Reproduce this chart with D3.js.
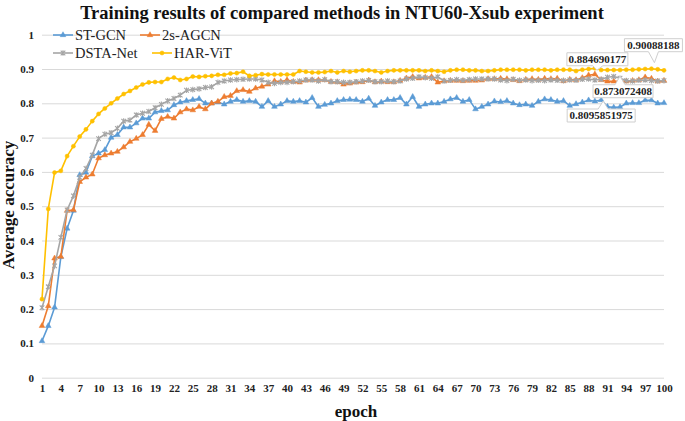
<!DOCTYPE html>
<html><head><meta charset="utf-8">
<script src="https://cdn.jsdelivr.net/npm/d3@7"></script>
<style>
html,body{margin:0;padding:0;background:#fff;}
svg{display:block;}
text{font-family:"Liberation Serif","Times New Roman",serif;}
</style></head>
<body><svg id="c" width="685" height="421"></svg>
<script>
const epochs = d3.range(1, 101);
const xTickLabels = d3.range(1, 101, 3);
const yTicks = [0,0.1,0.2,0.3,0.4,0.5,0.6,0.7,0.8,0.9,1];
const seriesNames = ["ST-GCN","2s-AGCN","DSTA-Net","HAR-ViT"];

const stgcn = [0.107,0.151,0.205,0.352,0.435,0.487,0.591,0.598,0.646,0.654,
 0.664,0.700,0.708,0.730,0.730,0.742,0.756,0.756,0.774,0.778,
 0.780,0.795,0.803,0.807,0.810,0.813,0.800,0.800,0.803,0.797,
 0.805,0.810,0.805,0.807,0.805,0.790,0.807,0.790,0.797,0.807,
 0.805,0.807,0.803,0.816,0.790,0.796,0.800,0.807,0.810,0.811,
 0.810,0.805,0.814,0.793,0.803,0.810,0.810,0.816,0.797,0.819,
 0.790,0.797,0.800,0.800,0.805,0.812,0.816,0.805,0.810,0.783,
 0.790,0.797,0.806,0.804,0.807,0.800,0.795,0.797,0.793,0.805,
 0.812,0.810,0.805,0.807,0.793,0.798,0.803,0.809,0.806,0.8095851975,
 0.790,0.788,0.789,0.800,0.801,0.801,0.809,0.809,0.800,0.801];
const agcn = [0.151,0.209,0.348,0.353,0.487,0.489,0.571,0.584,0.593,0.640,
 0.649,0.654,0.659,0.672,0.688,0.697,0.708,0.738,0.720,0.755,
 0.761,0.756,0.774,0.783,0.780,0.790,0.783,0.800,0.805,0.819,
 0.822,0.836,0.839,0.834,0.844,0.849,0.855,0.865,0.863,0.868,
 0.863,0.861,0.867,0.868,0.868,0.868,0.863,0.862,0.855,0.858,
 0.861,0.862,0.867,0.862,0.864,0.862,0.862,0.866,0.873,0.877,
 0.873,0.875,0.877,0.861,0.865,0.866,0.866,0.865,0.866,0.866,
 0.867,0.871,0.871,0.872,0.871,0.868,0.865,0.869,0.871,0.869,
 0.872,0.871,0.872,0.865,0.869,0.868,0.874,0.882,0.884690177,0.868,
 0.864,0.864,0.864,0.864,0.866,0.868,0.876,0.872,0.864,0.866];
const dsta = [0.204,0.265,0.326,0.409,0.489,0.530,0.584,0.610,0.649,0.697,
 0.710,0.714,0.727,0.748,0.751,0.766,0.771,0.776,0.787,0.797,
 0.807,0.814,0.824,0.838,0.840,0.842,0.846,0.848,0.861,0.865,
 0.868,0.869,0.870,0.871,0.871,0.868,0.861,0.858,0.861,0.861,
 0.863,0.865,0.868,0.868,0.865,0.869,0.863,0.863,0.861,0.861,
 0.863,0.865,0.867,0.863,0.863,0.865,0.863,0.865,0.871,0.873,
 0.877,0.875,0.873,0.877,0.865,0.867,0.869,0.867,0.869,0.871,
 0.871,0.871,0.871,0.868,0.866,0.870,0.867,0.868,0.866,0.867,
 0.866,0.868,0.867,0.866,0.868,0.867,0.870,0.871,0.868,0.870,
 0.876,0.878,0.873072408,0.866,0.865,0.867,0.868,0.866,0.865,0.866];
const harvit = [0.229,0.492,0.598,0.603,0.646,0.675,0.703,0.724,0.748,0.769,
 0.785,0.800,0.814,0.827,0.836,0.846,0.855,0.861,0.862,0.862,
 0.871,0.875,0.868,0.871,0.878,0.877,0.879,0.880,0.883,0.883,
 0.887,0.888,0.892,0.880,0.882,0.885,0.884,0.884,0.884,0.884,
 0.884,0.894,0.892,0.890,0.890,0.891,0.894,0.890,0.894,0.892,
 0.894,0.896,0.896,0.894,0.890,0.894,0.896,0.896,0.896,0.896,
 0.896,0.894,0.896,0.894,0.892,0.896,0.898,0.898,0.896,0.896,
 0.894,0.894,0.896,0.898,0.898,0.898,0.898,0.896,0.898,0.898,
 0.898,0.896,0.898,0.898,0.898,0.894,0.898,0.900,0.902,0.897,
 0.897,0.897,0.897,0.898,0.898,0.899,0.900,0.90088188,0.899,0.896];

// data labels: [series index, epoch]
const labelPoints = [[1,89],[3,98],[2,93],[0,90]];

const colors = ["#5B9BD5","#ED7D31","#A5A5A5","#FFC000"];
const allSeries = [stgcn, agcn, dsta, harvit];

const svg = d3.select("#c");
const x = d3.scaleLinear().domain([1,100]).range([42,664]);
const y = d3.scaleLinear().domain([0,1]).range([377.7,34.7]);

// gridlines
const grid = svg.append("g").attr("transform","translate(42,0)")
  .call(d3.axisLeft(y).tickValues(yTicks).tickSize(-(664-42)).tickFormat(""));
grid.select(".domain").remove();
grid.selectAll("line").attr("stroke","#D9D9D9").attr("stroke-width",1);

// y tick labels
const ya = svg.append("g").attr("transform","translate(34,0)")
  .call(d3.axisLeft(y).tickValues(yTicks).tickSize(0).tickPadding(0).tickFormat(d=>d3.format("")(d)));
ya.select(".domain").remove();
ya.selectAll("text").attr("font-family","Liberation Serif").attr("font-weight","bold")
  .attr("font-size",11).attr("fill","#222");

// x tick labels
const xa = svg.append("g").attr("transform","translate(0,384)")
  .call(d3.axisBottom(x).tickValues(xTickLabels).tickSize(0).tickPadding(0).tickFormat(d3.format("d")));
xa.select(".domain").remove();
xa.selectAll("text").attr("font-family","Liberation Serif").attr("font-weight","bold")
  .attr("font-size",11).attr("fill","#222");

// markers
function markerPath(i){
  if(i===0||i===1) return d3.symbol().type(d3.symbolTriangle).size(14)();
  if(i===2) return "M-2.3,-2.3L2.3,2.3M-2.3,2.3L2.3,-2.3M0,-2.8L0,2.8";
  return d3.symbol().type(d3.symbolCircle).size(13)();
}
function drawMarker(g,i,cx,cy){
  const p = g.append("path").attr("d",markerPath(i)).attr("transform",`translate(${cx},${cy})`);
  if(i===2) p.attr("fill","none").attr("stroke",colors[i]).attr("stroke-width",1.1);
  else p.attr("fill",colors[i]).attr("stroke",colors[i]).attr("stroke-width",0.5);
}

const line = d3.line().x((d,j)=>x(epochs[j])).y(d=>y(d));
allSeries.forEach((vals,i)=>{
  const g = svg.append("g");
  g.append("path").datum(vals).attr("d",line).attr("fill","none")
    .attr("stroke",colors[i]).attr("stroke-width",1.6).attr("stroke-linejoin","round");
  vals.forEach((v,j)=>drawMarker(g,i,x(epochs[j]),y(v)));
});

// callout data labels
const calloutCfg = [
  {dx:-28, dy:-21.5, w:61, h:13, side:"bottom", bx:3, tx:2, ty:-4},
  {dx:-27, dy:-30, w:58, h:13, side:"bottom", bx:2, tx:3, ty:-6},
  {dx:-27, dy:6.5, w:60, h:13, side:"top", bx:0, tx:0, ty:-2},
  {dx:-34, dy:9, w:68, h:13, side:"top", bx:2, tx:2, ty:1}
];
labelPoints.forEach(([si,ep],k)=>{
  const v = allSeries[si][ep-1];
  const px = x(ep), py = y(v);
  const c = calloutCfg[k];
  const bx0 = px + c.dx, by0 = py + c.dy, w=c.w, h=c.h;
  const bc = px + c.bx, hw = 5;
  const tipx = px + c.tx, tipy = py + c.ty;
  let d;
  if(c.side==="bottom"){
    d = `M${bx0},${by0}H${bx0+w}V${by0+h}H${bc+hw}L${tipx},${tipy}L${bc-hw},${by0+h}H${bx0}Z`;
  } else {
    d = `M${bx0},${by0}H${bc-hw}L${tipx},${tipy}L${bc+hw},${by0}H${bx0+w}V${by0+h}H${bx0}Z`;
  }
  svg.append("path").attr("d",d).attr("fill","#fff").attr("stroke","#CFCFCF").attr("stroke-width",1);
  svg.append("text").attr("x",bx0+w/2).attr("y",by0+h/2).attr("dy","0.35em")
    .attr("text-anchor","middle").attr("font-weight","bold").attr("font-size",11).attr("fill","#222")
    .text(String(v));
});

// title
svg.append("text").attr("x",342).attr("y",19).attr("text-anchor","middle")
  .attr("font-weight","bold").attr("font-size",18.5).attr("fill","#111")
  .text("Training results of compared methods in NTU60-Xsub experiment");

// axis titles
svg.append("text").attr("x",356).attr("y",417).attr("text-anchor","middle")
  .attr("font-weight","bold").attr("font-size",17).attr("fill","#111").text("epoch");
svg.append("text").attr("transform","translate(14,205) rotate(-90)").attr("text-anchor","middle")
  .attr("font-weight","bold").attr("font-size",17).attr("fill","#111").text("Average accuracy");

// legend
const legendPos = [[53,35],[140,35],[53,53],[152,53]];
seriesNames.forEach((n,i)=>{
  const [lx,ly] = legendPos[i];
  const g = svg.append("g");
  g.append("line").attr("x1",lx).attr("x2",lx+20).attr("y1",ly).attr("y2",ly)
    .attr("stroke",colors[i]).attr("stroke-width",1.6);
  drawMarker(g,i,lx+10,ly);
  g.append("text").attr("x",lx+22).attr("y",ly).attr("dy","0.35em")
    .attr("font-size",14.5).attr("fill","#222").text(n);
});
</script></body></html>
